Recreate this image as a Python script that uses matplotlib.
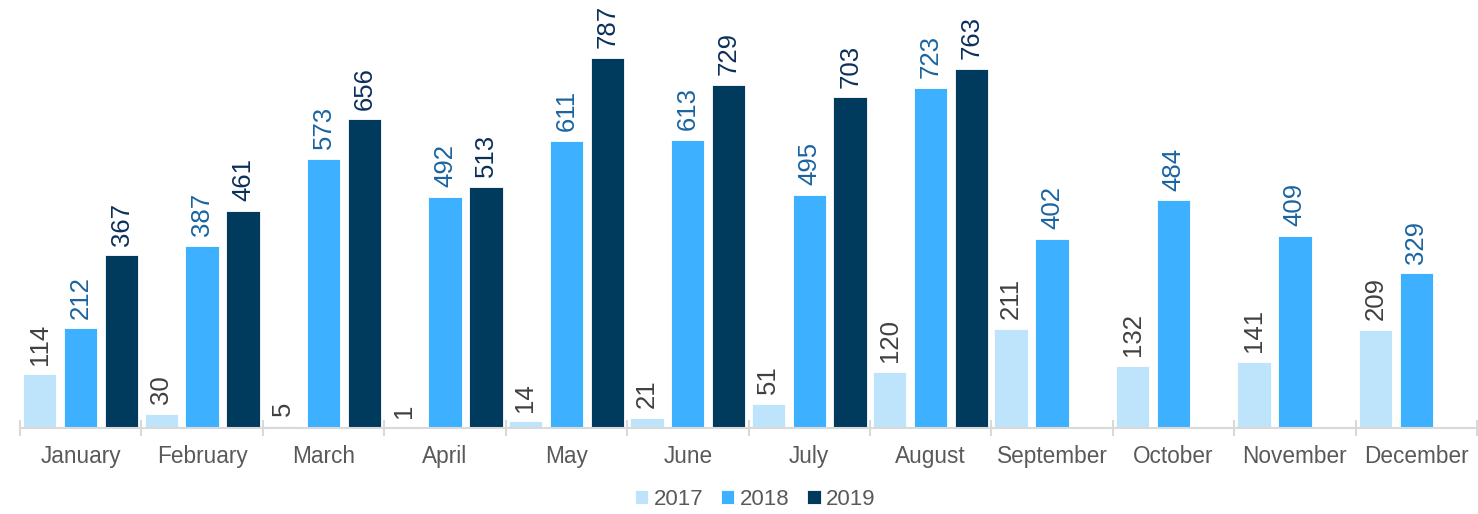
import matplotlib
matplotlib.use("Agg")
import matplotlib.pyplot as plt
import numpy as np

plt.rcParams['font.family'] = ['Liberation Sans', 'DejaVu Sans']

months = ["January", "February", "March", "April", "May", "June", "July",
          "August", "September", "October", "November", "December"]
series_names = ["2017", "2018", "2019"]
v2017 = [114, 30, 5, 1, 14, 21, 51, 120, 211, 132, 141, 209]
v2018 = [212, 387, 573, 492, 611, 613, 495, 723, 402, 484, 409, 329]
v2019 = [367, 461, 656, 513, 787, 729, 703, 763, None, None, None, None]

bar_colors = ["#BDE4FB", "#3DB0FF", "#003A5D"]
label_colors = ["#404040", "#1A64A0", "#0B2F5A"]

fig = plt.figure(figsize=(14.78, 5.14), dpi=100)
ax = fig.add_axes([20 / 1478, 86 / 514, 1 - 21 / 1478, 1 - 86 / 514])

x = np.arange(len(months))
width = 0.275
offset = 0.337
for i, (vals, name) in enumerate(zip([v2017, v2018, v2019], series_names)):
    xs = [xi + (i - 1) * offset for xi, v in zip(x, vals) if v is not None]
    ys = [v for v in vals if v is not None]
    ax.bar(xs, ys, width=width, color=bar_colors[i], edgecolor="white",
           linewidth=0.6, label=name, zorder=2)
    for xx, yy in zip(xs, ys):
        ax.annotate(str(yy), (xx, yy), xytext=(0, 7), textcoords="offset points",
                    rotation=90, ha="center", va="bottom", fontsize=18.5,
                    color=label_colors[i])

ax.set_xlim(-0.5, len(months) - 0.5)
ax.set_ylim(0, 910)
ax.set_yticks([])
for s in ["top", "right", "left"]:
    ax.spines[s].set_visible(False)
ax.spines["bottom"].set_color("#D9D9D9")
ax.spines["bottom"].set_linewidth(1.5)

ax.set_xticks(x)
ax.set_xticklabels(months, fontsize=16.3, color="#595959")
ax.tick_params(axis="x", length=0, pad=12)
ax.set_xticks(np.arange(-0.5, len(months)), minor=True)
ax.tick_params(axis="x", which="minor", direction="inout", length=12, width=1.5,
               color="#D9D9D9")

fig.legend(loc="center", bbox_to_anchor=(0.511, 0.028), ncol=3, frameon=False,
           fontsize=16, handlelength=0.6, handleheight=0.6, handletextpad=0.25,
           columnspacing=0.8, labelcolor="#595959")

fig.savefig("out.png", dpi=100)
